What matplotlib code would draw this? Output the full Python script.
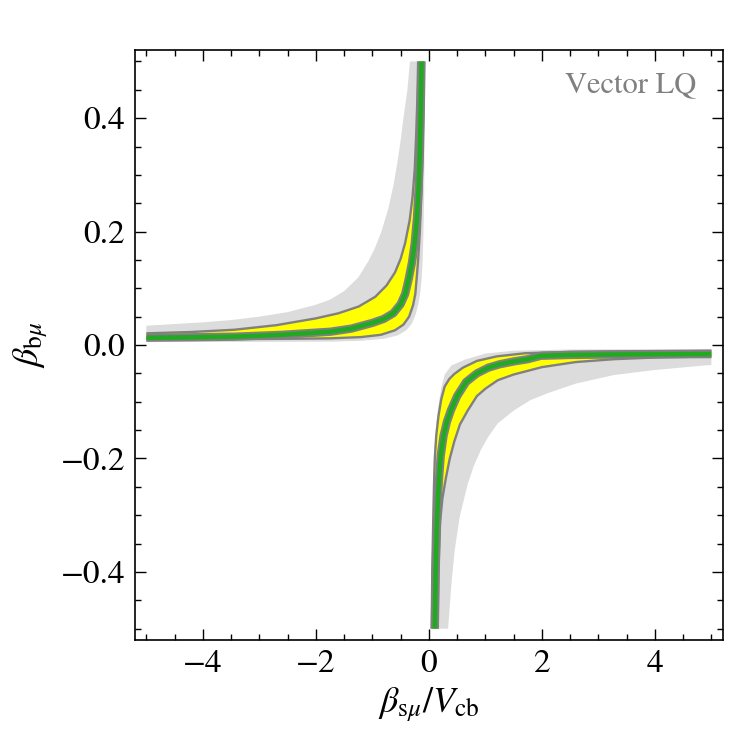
import numpy as np
import matplotlib
matplotlib.use('Agg')
import matplotlib.pyplot as plt
from matplotlib.ticker import MultipleLocator

# band edges, upper-left branch (x < 0)
ul_grey_out_x = [-5.0, -4.5, -4.0, -3.5, -3.0, -2.5, -2.0, -1.75, -1.5, -1.25, -1.07, -0.95,
                 -0.84, -0.72, -0.63, -0.56, -0.50, -0.45, -0.38, -0.335]
ul_grey_out_y = [0.034, 0.037, 0.040, 0.044, 0.050, 0.058, 0.071, 0.080, 0.095, 0.119, 0.148, 0.172,
                 0.200, 0.240, 0.280, 0.320, 0.360, 0.400, 0.450, 0.500]
ul_grey_in_x = [-5.0, -3.0, -1.74, -1.2, -0.8, -0.55, -0.4, -0.3, -0.23, -0.18, -0.15, -0.13,
                -0.11, -0.095, -0.083, -0.076, -0.072, -0.07]
ul_grey_in_y = [0.0053, 0.0055, 0.006, 0.0075, 0.011, 0.017, 0.026, 0.038, 0.055, 0.075, 0.095, 0.115,
                0.15, 0.2, 0.27, 0.35, 0.42, 0.5]
ul_yel_out_x = [-5.0, -4.2, -3.44, -2.7, -2.0, -1.6, -1.24, -0.95, -0.75, -0.6, -0.5, -0.42,
                -0.34, -0.29, -0.25, -0.225, -0.205, -0.19]
ul_yel_out_y = [0.0206, 0.023, 0.027, 0.035, 0.047, 0.056, 0.068, 0.085, 0.105, 0.128, 0.152, 0.18,
                0.22, 0.26, 0.31, 0.37, 0.43, 0.5]
ul_yel_in_x = [-5.0, -3.5, -2.5, -1.74, -1.2, -0.85, -0.6, -0.45, -0.35, -0.28, -0.24, -0.218,
               -0.19, -0.16, -0.135, -0.115, -0.10, -0.088]
ul_yel_in_y = [0.0101, 0.0105, 0.011, 0.0118, 0.014, 0.018, 0.026, 0.036, 0.050, 0.070, 0.090, 0.115,
               0.15, 0.20, 0.26, 0.33, 0.41, 0.5]
ul_green_x = [-5.0, -4.2, -3.44, -2.6, -1.74, -1.37, -1.0, -0.8, -0.63, -0.5, -0.42, -0.36,
              -0.30, -0.25, -0.21, -0.18, -0.16, -0.145, -0.13]
ul_green_y = [0.0129, 0.0137, 0.0147, 0.018, 0.0235, 0.029, 0.039, 0.046, 0.056, 0.072, 0.09, 0.115,
              0.145, 0.18, 0.225, 0.28, 0.34, 0.41, 0.5]

# lower-right branch (x > 0)
lr_grey_out_x = [0.34, 0.37, 0.40, 0.457, 0.545, 0.69, 0.80, 0.92, 1.05, 1.22, 1.51, 1.8,
                 2.10, 2.6, 3.27, 4.0, 5.0]
lr_grey_out_y = [-0.5, -0.46, -0.42, -0.362, -0.303, -0.244, -0.212, -0.185, -0.162, -0.138, -0.115, -0.097,
                 -0.085, -0.068, -0.053, -0.044, -0.035]
lr_grey_in_x = [0.046, 0.055, 0.065, 0.076, 0.1, 0.13, 0.164, 0.22, 0.28, 0.4, 0.63, 1.0,
                1.5, 2.5, 5.0]
lr_grey_in_y = [-0.5, -0.4, -0.32, -0.247, -0.18, -0.14, -0.11, -0.075, -0.052, -0.036, -0.026, -0.015,
                -0.010, -0.0078, -0.007]
lr_yel_out_x = [0.155, 0.165, 0.18, 0.2, 0.24, 0.3, 0.37, 0.45, 0.55, 0.69, 0.85, 1.0,
                1.22, 1.5, 2.0, 2.6, 3.27, 4.0, 5.0]
lr_yel_out_y = [-0.5, -0.42, -0.36, -0.31, -0.27, -0.235, -0.2, -0.17, -0.14, -0.115, -0.09, -0.077,
                -0.062, -0.052, -0.039, -0.03, -0.025, -0.022, -0.020]
lr_yel_in_x = [0.05, 0.06, 0.075, 0.09, 0.105, 0.13, 0.17, 0.22, 0.28, 0.36, 0.45, 0.6,
               0.85, 1.2, 1.7, 2.5, 3.5, 5.0]
lr_yel_in_y = [-0.5, -0.4, -0.32, -0.25, -0.2, -0.16, -0.125, -0.095, -0.073, -0.06, -0.051, -0.04,
               -0.028, -0.02, -0.0145, -0.012, -0.011, -0.010]
lr_green_x = [0.105, 0.12, 0.14, 0.16, 0.18, 0.21, 0.26, 0.32, 0.39, 0.5, 0.66, 0.85,
              1.05, 1.25, 1.5, 1.75, 1.98, 2.5, 3.5, 5.0]
lr_green_y = [-0.5, -0.4, -0.32, -0.27, -0.235, -0.195, -0.16, -0.135, -0.115, -0.09, -0.065, -0.05,
              -0.04, -0.034, -0.029, -0.025, -0.019, -0.0175, -0.0165, -0.016]

x_ticks = [-4, -2, 0, 2, 4]
y_ticks = [-0.4, -0.2, 0.0, 0.2, 0.4]

plt.rcParams['font.family'] = ['STIXGeneral', 'DejaVu Serif']
plt.rcParams['mathtext.fontset'] = 'stix'

GREY = '#dcdcdc'
LINE = '#808080'
YEL = '#ffff00'
GRN = '#1faa1f'


def band(ax, xo, yo, xi, yi, color):
    px = np.concatenate([xo, xi[::-1]])
    py = np.concatenate([yo, yi[::-1]])
    ax.fill(px, py, color=color, lw=0)


fig = plt.figure(figsize=(7.3, 7.42), dpi=100)
ax = fig.add_axes([0.185, 0.1375, 0.805, 0.795])

branches = [
    (ul_grey_out_x, ul_grey_out_y, ul_grey_in_x, ul_grey_in_y,
     ul_yel_out_x, ul_yel_out_y, ul_yel_in_x, ul_yel_in_y, ul_green_x, ul_green_y),
    (lr_grey_out_x, lr_grey_out_y, lr_grey_in_x, lr_grey_in_y,
     lr_yel_out_x, lr_yel_out_y, lr_yel_in_x, lr_yel_in_y, lr_green_x, lr_green_y),
]
for b in branches:
    b = [np.array(v) for v in b]
    gxo, gyo, gxi, gyi, yxo, yyo, yxi, yyi, cx, cy = b
    band(ax, gxo, gyo, gxi, gyi, GREY)
    band(ax, yxo, yyo, yxi, yyi, YEL)
    ax.plot(yxo, yyo, color=LINE, lw=1.7, solid_capstyle='butt', solid_joinstyle='round')
    ax.plot(yxi, yyi, color=LINE, lw=1.7, solid_capstyle='butt', solid_joinstyle='round')
    ax.plot(cx, cy, color=LINE, lw=6.0, solid_capstyle='butt', solid_joinstyle='round')
    ax.plot(cx, cy, color=GRN, lw=3.2, solid_capstyle='butt', solid_joinstyle='round')

ax.set_xlim(-5.2, 5.2)
ax.set_ylim(-0.52, 0.52)
ax.set_xticks(x_ticks)
ax.set_yticks(y_ticks)
ax.set_yticklabels(['\u2212%.1f' % abs(v) if v < 0 else '%.1f' % v for v in y_ticks])
ax.set_xticklabels(['\u2212%d' % abs(v) if v < 0 else '%d' % v for v in x_ticks])
ax.xaxis.set_minor_locator(MultipleLocator(0.5))
ax.yaxis.set_minor_locator(MultipleLocator(0.05))
ax.tick_params(which='both', direction='in', top=True, right=True, width=1.0, labelsize=24)
ax.tick_params(which='major', length=8, pad=7)
ax.tick_params(which='minor', length=4)
for s in ax.spines.values():
    s.set_linewidth(1.2)

ax.set_xlabel(r'$\beta_{\mathrm{s}\mu}/V_{\mathrm{cb}}$', fontsize=26, labelpad=4)
ax.set_ylabel(r'$\beta_{\mathrm{b}\mu}$', fontsize=26, labelpad=8)
ax.text(0.955, 0.94, 'Vector LQ', transform=ax.transAxes, ha='right', va='center',
        fontsize=22, color=LINE)

fig.savefig('out.png', dpi=100)
